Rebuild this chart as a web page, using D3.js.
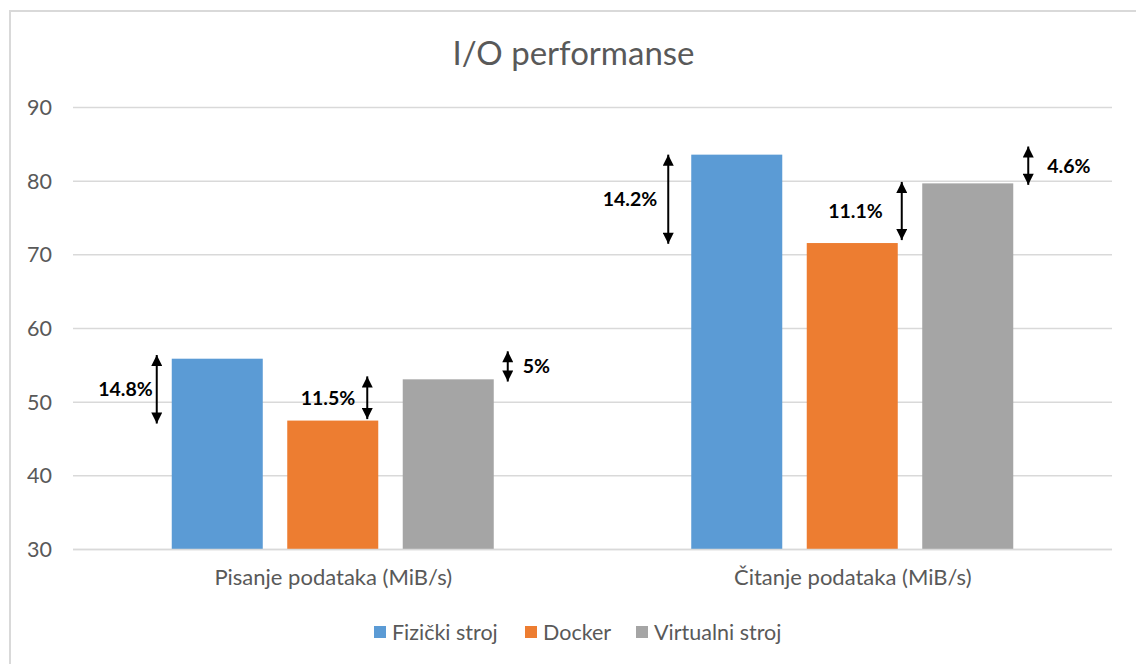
<!DOCTYPE html>
<html>
<head>
<meta charset="utf-8">
<script src="https://cdn.jsdelivr.net/npm/d3@7"></script>
<style>
  html, body { margin: 0; padding: 0; background: #fff; }
  svg { display: block; font-family: Lato, "Open Sans", sans-serif; }
</style>
</head>
<body>
<svg id="chart" width="1136" height="664"></svg>
<script>
// ---- data ----
const title = "I/O performanse";
const categories = ["Pisanje podataka (MiB/s)", "Čitanje podataka (MiB/s)"];
const seriesNames = ["Fizički stroj", "Docker", "Virtualni stroj"];
const fizickiValues = [55.9, 83.6];
const dockerValues = [47.5, 71.6];
const virtualniValues = [53.1, 79.7];
const yTicks = [30, 40, 50, 60, 70, 80, 90];
const seriesColors = ["#5B9BD5", "#ED7D31", "#A5A5A5"];

// difference annotations (arrow tip values in data units)
const annCategory = [0, 0, 0, 1, 1, 1];
const annLabels = ["14.8%", "11.5%", "5%", "14.2%", "11.1%", "4.6%"];
const annTop = [56.4, 53.5, 56.9, 83.6, 79.9, 84.7];
const annBottom = [47.1, 47.7, 52.8, 71.5, 72.0, 79.5];

// ---- layout ----
const svg = d3.select("#chart");
const W = 1136, H = 664;
const plot = { left: 73, right: 1112, top: 107.5, bottom: 549.5 };

const values = [fizickiValues, dockerValues, virtualniValues];

// border
svg.append("path")
  .attr("d", `M10,${H} L10,11 L${W},11`)
  .attr("fill", "none").attr("stroke", "#d9d9d9").attr("stroke-width", 2);

const x0 = d3.scaleBand().domain(d3.range(categories.length))
  .range([plot.left, plot.right]).padding(0);
const groupHalf = 161;
const x1 = d3.scaleBand().domain(d3.range(seriesNames.length))
  .range([-groupHalf, groupHalf]).paddingInner(0.212).paddingOuter(0);
const y = d3.scaleLinear().domain([30, 90]).range([plot.bottom, plot.top]);

// gridlines
svg.append("g").selectAll("line").data(yTicks).join("line")
  .attr("x1", plot.left).attr("x2", plot.right)
  .attr("y1", d => y(d)).attr("y2", d => y(d))
  .attr("stroke", "#d9d9d9").attr("stroke-width", 1.5);

// y axis labels
const yAxis = d3.axisLeft(y).tickValues(yTicks).tickSize(0).tickPadding(21);
const yg = svg.append("g").attr("transform", `translate(${plot.left},0)`).call(yAxis);
yg.select(".domain").remove();
yg.selectAll("text").attr("fill", "#595959").style("font-size", "21.5px")
  .style("font-family", "Lato, sans-serif");

// bars
const barData = [];
categories.forEach((c, ci) => seriesNames.forEach((s, si) => barData.push({ ci, si, v: values[si][ci] })));
const barX = d => x0(d.ci) + x0.bandwidth() / 2 + x1(d.si);
svg.append("g").selectAll("rect").data(barData).join("rect")
  .attr("x", barX)
  .attr("width", x1.bandwidth())
  .attr("y", d => y(d.v))
  .attr("height", d => y(30) - y(d.v))
  .attr("fill", d => seriesColors[d.si]);

// baseline on top of bars
svg.append("line").attr("x1", plot.left).attr("x2", plot.right)
  .attr("y1", y(30)).attr("y2", y(30)).attr("stroke", "#d9d9d9").attr("stroke-width", 1.5);

// category labels
const xAxis = d3.axisBottom(d3.scaleOrdinal().domain(categories)
  .range(categories.map((c, i) => x0(i) + x0.bandwidth() / 2))).tickSize(0).tickPadding(20);
const xg = svg.append("g").attr("transform", `translate(0,${plot.bottom})`).call(xAxis);
xg.select(".domain").remove();
xg.selectAll("text").attr("fill", "#595959").style("font-size", "22px")
  .style("font-family", "Lato, sans-serif");

// title
svg.append("text").attr("x", (plot.left + plot.right) / 2 - 19).attr("y", 65)
  .attr("text-anchor", "middle").attr("fill", "#595959")
  .style("font-size", "33px").text(title);

// annotations: arrow placement relative to bars (series index, edge, offset, label side, gap)
const annLayout = [
  { si: 0, edge: "left", dx: -15, side: "left", gap: 4 },
  { si: 1, edge: "right", dx: -11, side: "left", gap: 12 },
  { si: 2, edge: "right", dx: 14, side: "right", gap: 15 },
  { si: 0, edge: "left", dx: -23, side: "left", gap: 11 },
  { si: 1, edge: "right", dx: 4, side: "left", gap: 19 },
  { si: 2, edge: "right", dx: 15, side: "right", gap: 19 }
];
const defs = svg.append("defs");
defs.append("marker").attr("id", "ah").attr("viewBox", "0 0 10 10")
  .attr("refX", 10).attr("refY", 5).attr("markerWidth", 6).attr("markerHeight", 5.5)
  .attr("markerUnits", "strokeWidth").attr("orient", "auto-start-reverse")
  .append("path").attr("d", "M0,0 L10,5 L0,10 Z").attr("fill", "#000");

const ag = svg.append("g");
annLabels.forEach((lab, i) => {
  const L = annLayout[i];
  const bx = x0(annCategory[i]) + x0.bandwidth() / 2 + x1(L.si);
  const ax = (L.edge === "left" ? bx : bx + x1.bandwidth()) + L.dx;
  const yt = y(annTop[i]), yb = y(annBottom[i]);
  ag.append("line").attr("x1", ax).attr("x2", ax).attr("y1", yt).attr("y2", yb)
    .attr("stroke", "#000").attr("stroke-width", 2)
    .attr("marker-start", "url(#ah)").attr("marker-end", "url(#ah)");
  ag.append("text")
    .attr("x", L.side === "left" ? ax - L.gap : ax + L.gap)
    .attr("y", (yt + yb) / 2)
    .attr("dy", "0.35em")
    .attr("text-anchor", L.side === "left" ? "end" : "start")
    .attr("fill", "#000").style("font-weight", "bold").style("font-size", "19.5px")
    .text(lab);
});

// legend
const legendItems = seriesNames.map((s, i) => ({ s, c: seriesColors[i] }));
const lg = svg.append("g").attr("transform", "translate(374,632)");
const legendX = [0, 151, 262];
legendItems.forEach((d, i) => {
  const g = lg.append("g").attr("transform", `translate(${legendX[i]},0)`);
  g.append("rect").attr("x", 0).attr("y", -6).attr("width", 12).attr("height", 12).attr("fill", d.c);
  g.append("text").attr("x", 18).attr("y", 0).attr("dy", "0.36em")
    .attr("fill", "#595959").style("font-size", "21.5px").text(d.s);
});
</script>
</body>
</html>
